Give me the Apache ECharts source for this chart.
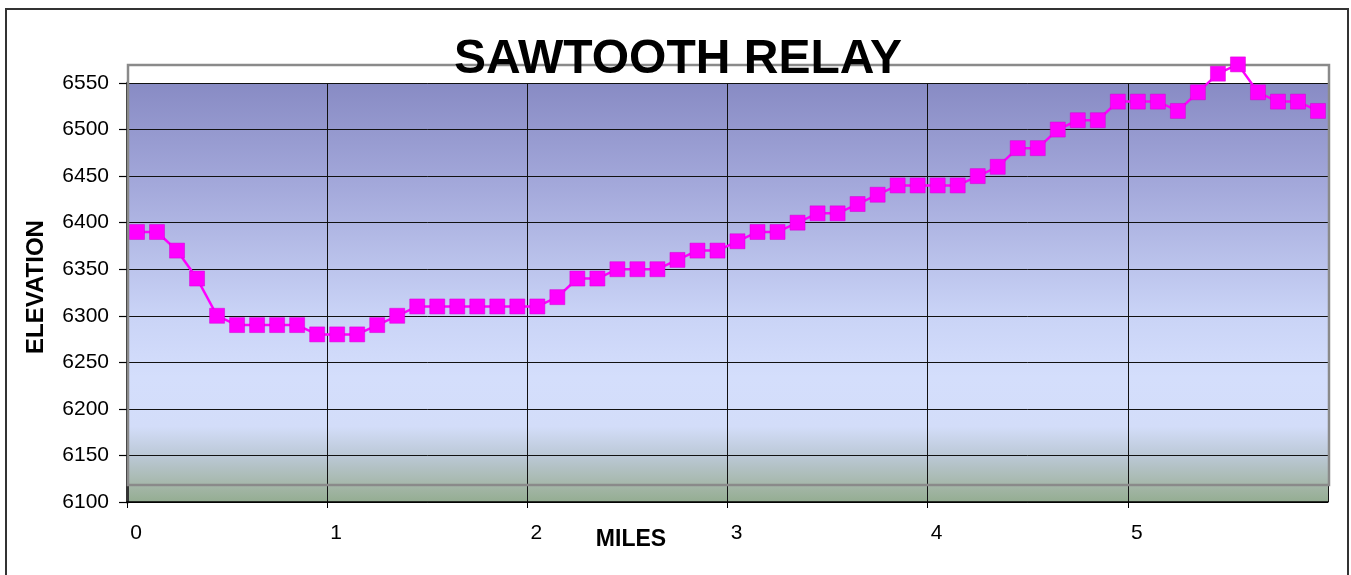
<!DOCTYPE html>
<html>
<head>
<meta charset="utf-8">
<title>Sawtooth Relay</title>
<script src="https://cdn.jsdelivr.net/npm/echarts@6/dist/echarts.min.js"></script>
<style>
    html, body { margin: 0; padding: 0; background: #fff; }
    #chart { width: 1351px; height: 575px; }
</style>
</head>
<body>
<div id="chart"></div>
<script>
    "use strict";

    var chartTitle = "SAWTOOTH RELAY";
    var xName = "MILES";
    var yName = "ELEVATION";

    // mile markers, every tenth of a mile
    var miles = [0.05, 0.15, 0.25, 0.35, 0.45, 0.55, 0.65, 0.75, 0.85, 0.95,
        1.05, 1.15, 1.25, 1.35, 1.45, 1.55, 1.65, 1.75, 1.85, 1.95,
        2.05, 2.15, 2.25, 2.35, 2.45, 2.55, 2.65, 2.75, 2.85, 2.95,
        3.05, 3.15, 3.25, 3.35, 3.45, 3.55, 3.65, 3.75, 3.85, 3.95,
        4.05, 4.15, 4.25, 4.35, 4.45, 4.55, 4.65, 4.75, 4.85, 4.95,
        5.05, 5.15, 5.25, 5.35, 5.45, 5.55, 5.65, 5.75, 5.85, 5.95];

    var elevation = [6390, 6390, 6370, 6340, 6300, 6290, 6290, 6290, 6290, 6280,
        6280, 6280, 6290, 6300, 6310, 6310, 6310, 6310, 6310, 6310,
        6310, 6320, 6340, 6340, 6350, 6350, 6350, 6360, 6370, 6370,
        6380, 6390, 6390, 6400, 6410, 6410, 6420, 6430, 6440, 6440,
        6440, 6440, 6450, 6460, 6480, 6480, 6500, 6510, 6510, 6530,
        6530, 6530, 6520, 6540, 6560, 6570, 6540, 6530, 6530, 6520];

    var xTicks = [0, 1, 2, 3, 4, 5, 6];
    var yTicks = [6100, 6150, 6200, 6250, 6300, 6350, 6400, 6450, 6500, 6550];

    var font = '"Liberation Sans", Arial, sans-serif';

    var points = miles.map(function (m, i) { return [m, elevation[i]]; });

    var myChart = echarts.init(document.getElementById('chart'));

    var option = {
        animation: false,
        grid: {
            left: 127, right: 23, top: 83, bottom: 73,
            show: true,
            borderWidth: 0,
            backgroundColor: {
                type: 'linear', x: 0, y: 0, x2: 0, y2: 1,
                colorStops: [
                    { offset: 0, color: '#888bc4' },
                    { offset: 0.25, color: '#a4a9db' },
                    { offset: 0.55, color: '#c9d3f6' },
                    { offset: 0.7, color: '#d4defc' },
                    { offset: 0.82, color: '#d3ddf9' },
                    { offset: 0.89, color: '#bbc8d6' },
                    { offset: 0.96, color: '#a5b7a9' },
                    { offset: 1, color: '#94ad92' }
                ]
            }
        },
        xAxis: {
            type: 'value',
            min: xTicks[0],
            max: xTicks[xTicks.length - 1],
            interval: 1,
            axisLine: { lineStyle: { color: '#000', width: 1.5 } },
            axisTick: { length: 6, lineStyle: { color: '#000' } },
            axisLabel: {
                showMaxLabel: false,
                margin: 21,
                padding: [0, 0, 0, 18],
                fontSize: 21,
                fontFamily: font,
                color: '#000'
            },
            splitLine: { show: true, lineStyle: { color: '#111', width: 1 } }
        },
        yAxis: {
            type: 'value',
            min: yTicks[0],
            max: yTicks[yTicks.length - 1],
            interval: 50,
            axisLine: { show: true, lineStyle: { color: '#333', width: 3 } },
            axisTick: { show: true, length: 8, lineStyle: { color: '#000', width: 1.2 } },
            axisLabel: {
                margin: 18,
                fontSize: 21,
                fontFamily: font,
                color: '#000',
                formatter: function (v) { return String(v); }
            },
            splitLine: { show: true, lineStyle: { color: '#111', width: 1 } }
        },
        graphic: [
            // outer chart border
            {
                type: 'rect', z: 1, silent: true,
                shape: { x: 6, y: 9, width: 1342, height: 600 },
                style: { fill: 'none', stroke: '#333', lineWidth: 2 }
            },
            // grey wall frame
            {
                type: 'rect', z: 1, silent: true,
                shape: { x: 128, y: 65, width: 1201, height: 420 },
                style: { fill: 'none', stroke: '#8a8a8a', lineWidth: 2.5 }
            },
            {
                type: 'text', z: 20, silent: true,
                style: {
                    text: chartTitle, x: 678, y: 60,
                    align: 'center', verticalAlign: 'middle',
                    font: 'bold 48px ' + font, fill: '#000'
                }
            },
            {
                type: 'text', z: 20, silent: true,
                style: {
                    text: xName, x: 631, y: 540,
                    align: 'center', verticalAlign: 'middle',
                    font: 'bold 23px ' + font, fill: '#000'
                }
            },
            {
                type: 'text', z: 20, silent: true,
                x: 36, y: 287, rotation: Math.PI / 2,
                style: {
                    text: yName, x: 0, y: 0,
                    align: 'center', verticalAlign: 'middle',
                    font: 'bold 24px ' + font, fill: '#000'
                }
            }
        ],
        series: [
            {
                name: 'Elevation',
                type: 'line',
                data: points,
                clip: false,
                z: 5,
                symbol: 'rect',
                symbolSize: 15,
                lineStyle: { color: '#ff00ff', width: 2.5 },
                itemStyle: { color: '#ff00ff', borderColor: '#d000d0', borderWidth: 0.5 }
            }
        ]
    };

    myChart.setOption(option);
</script>
</body>
</html>
